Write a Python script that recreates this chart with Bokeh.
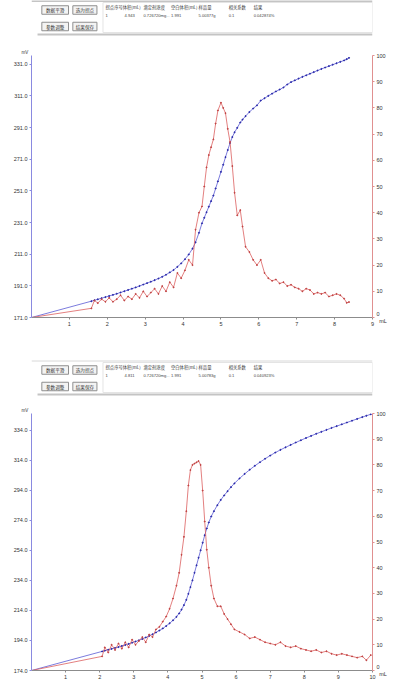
from bokeh.plotting import figure
from bokeh.models import Range1d, LinearAxis, FixedTicker, PrintfTickFormatter
from bokeh.layouts import column
from bokeh.embed import file_html
from bokeh.resources import INLINE
from bokeh.core.properties import value

# ---------------- data ----------------
buttons = ["数据平滑", "选为拐点", "参数调整", "结果保存"]
table_head = ["拐点序号", "体积(mL)", "滴定剂浓度", "空白体积(mL)", "样品量", "相关系数", "结果"]
table_row1 = ["1", "4.943", "0.726720mg...", "1.991", "5.00377g", "0.1", "0.042874%"]
table_row2 = ["1", "4.811", "0.726720mg...", "1.991", "5.00783g", "0.1", "0.040923%"]

x1 = [0, 1.58, 1.66, 1.75, 1.85, 1.95, 2.05, 2.15, 2.25, 2.35, 2.45, 2.55, 2.65, 2.75,
      2.85, 2.95, 3.05, 3.15, 3.25, 3.35, 3.45, 3.55, 3.65, 3.75, 3.85, 3.95, 4.05,
      4.15, 4.25, 4.33, 4.42, 4.50, 4.56, 4.62, 4.68, 4.74, 4.80, 4.86, 4.92, 5.00,
      5.06, 5.12, 5.18, 5.24, 5.30, 5.36, 5.43, 5.51, 5.57, 5.65, 5.75, 5.85, 5.95,
      6.05, 6.15, 6.25, 6.35, 6.45, 6.55, 6.65, 6.75, 6.85, 6.95, 7.05, 7.15, 7.25,
      7.35, 7.45, 7.55, 7.65, 7.75, 7.85, 7.95, 8.05, 8.15, 8.25, 8.32, 8.38]
mv1 = [171.0, 181.3, 181.9, 182.5, 183.2, 183.9, 184.6, 185.3, 186.0, 186.8, 187.6, 188.4,
       189.2, 190.0, 190.9, 191.8, 192.7, 193.6, 194.6, 195.6, 196.7, 198.0, 199.5, 201.0,
       203.0, 205.2, 207.8, 210.8, 214.5, 218.5, 224.5, 230.5, 234.0, 237.5, 241.0, 244.5,
       248.0, 252.5, 257.0, 263.0, 267.5, 272.3, 276.8, 281.2, 285.0, 288.0, 290.8, 294.2,
       296.0, 298.2, 300.8, 303.0, 305.0, 308.0, 309.5, 311.0, 312.4, 313.8, 315.0, 316.3,
       318.2, 319.7, 320.8, 321.9, 323.0, 324.0, 325.0, 326.0, 327.0, 328.0, 328.9, 329.8,
       330.7, 331.6, 332.5, 333.4, 334.2, 335.0]
d1 = [0.0, 3.5, 6.5, 5.5, 7.0, 6.0, 7.5, 6.0, 7.0, 8.5, 6.5, 8.0, 7.0, 9.0, 7.5, 10.0,
      8.0, 9.5, 11.0, 9.0, 12.0, 10.0, 13.5, 11.5, 17.0, 15.0, 18.0, 22.0, 20.0, 33.5,
      40.0, 42.4, 50.0, 57.3, 62.0, 65.0, 68.0, 74.0, 79.0, 82.0, 80.0, 78.0, 72.0, 67.0,
      57.8, 47.6, 39.0, 41.0, 34.7, 27.0, 25.0, 22.0, 20.0, 22.0, 17.0, 15.0, 14.0, 14.5,
      13.0, 13.5, 12.0, 12.5, 11.5, 11.0, 10.0, 11.0, 10.5, 9.0, 9.5, 9.0, 9.5, 8.0,
      8.5, 9.0, 8.5, 7.2, 5.6, 5.9]

x2 = [0, 2.07, 2.15, 2.25, 2.35, 2.45, 2.55, 2.65, 2.75, 2.85, 2.95, 3.05, 3.15, 3.25,
      3.35, 3.45, 3.55, 3.65, 3.75, 3.85, 3.95, 4.05, 4.15, 4.25, 4.33, 4.40, 4.47, 4.54,
      4.60, 4.66, 4.72, 4.78, 4.84, 4.90, 4.96, 5.02, 5.08, 5.14, 5.20, 5.27, 5.35, 5.45,
      5.55, 5.65, 5.75, 5.85, 5.95, 6.10, 6.25, 6.40, 6.55, 6.70, 6.85, 7.00, 7.15, 7.30,
      7.45, 7.60, 7.75, 7.90, 8.05, 8.20, 8.35, 8.50, 8.65, 8.80, 8.95, 9.10, 9.25, 9.40,
      9.55, 9.70, 9.82, 9.95]
mv2 = [174.0, 186.7, 187.2, 187.8, 188.4, 189.0, 189.6, 190.3, 191.0, 191.7, 192.5, 193.3,
       194.1, 195.0, 196.0, 197.0, 198.1, 199.3, 200.6, 202.0, 203.6, 205.4, 207.4, 209.7,
       212.0, 214.5, 217.5, 221.0, 225.0, 229.5, 234.0, 239.0, 244.0, 249.0, 254.0, 259.0,
       264.0, 268.5, 272.5, 276.5, 280.0, 284.0, 287.5, 290.5, 293.3, 296.0, 298.5, 301.8,
       304.8, 307.6, 310.2, 312.6, 314.9, 317.0, 319.0, 320.8, 322.5, 324.1, 325.7, 327.2,
       328.7, 330.1, 331.5, 332.8, 334.1, 335.4, 336.6, 337.8, 339.0, 340.2, 341.4, 342.6,
       343.5, 344.5]
d2 = [0.0, 5.5, 9.0, 7.0, 10.0, 8.0, 10.5, 8.5, 11.0, 9.0, 12.0, 10.0, 11.5, 13.0, 11.0,
      14.0, 13.0, 16.0, 17.0, 19.0, 21.0, 24.0, 28.0, 33.0, 38.0, 45.0, 52.0, 62.0, 72.0,
      78.0, 80.0, 80.5, 81.0, 81.5, 80.0, 70.0, 58.0, 47.0, 40.0, 33.0, 28.0, 25.0, 25.0,
      22.0, 20.0, 18.0, 16.0, 15.0, 14.0, 12.5, 13.0, 12.0, 11.0, 10.5, 10.0, 11.0, 9.5,
      9.0, 9.5, 8.5, 8.0, 7.5, 8.0, 7.0, 7.5, 6.5, 6.0, 6.5, 6.0, 5.5, 5.0, 5.5, 4.0, 6.0]

left_ticks1 = [171, 191, 211, 231, 251, 271, 291, 311, 331]
left_ticks2 = [174, 194, 214, 234, 254, 274, 294, 314, 334]
right_ticks = [0, 10, 20, 30, 40, 50, 60, 70, 80, 90, 100]
x_ticks1 = [1, 2, 3, 4, 5, 6, 7, 8, 9]
x_ticks2 = [1, 2, 3, 4, 5, 6, 7, 8, 9, 10]

CJK = value("Noto Sans CJK SC")
TXT = "#333333"
W = 396


def make_header(y0, y1, off, row, top_color):
    p = figure(width=W, height=y1 - y0, x_range=Range1d(0, W), y_range=Range1d(y1, y0),
               output_backend="svg", toolbar_location=None, min_border=0)
    p.axis.visible = False
    p.grid.visible = False
    p.outline_line_color = None
    p.segment(x0=[0], y0=[off + 0.5], x1=[W], y1=[off + 0.5], line_color=top_color, line_width=1)
    p.quad(left=[83], right=[W], top=[off + 2], bottom=[off + 32], fill_color="white",
           line_color="#e4e4e4", line_width=1)
    p.segment(x0=[7], y0=[off + 34], x1=[W], y1=[off + 34], line_color="#c4c4c4", line_width=2)
    bx = [27.5, 62, 27.5, 62]
    by = [off + 9.5, off + 9.5, off + 26, off + 26]
    p.rect(x=bx, y=by, width=[31, 28, 31, 28], height=[8.5, 8.5, 8.5, 8.5],
           fill_color="#f3f3f3", line_color="#8e8e8e", line_width=1)
    p.text(x=bx, y=by, text=buttons, text_font=CJK, text_font_size="4.6px",
           text_align="center", text_baseline="middle", text_color=TXT)
    cx = [86, 106, 130, 162, 194, 229, 258]
    p.text(x=cx, y=[off + 6] * 7, text=table_head, text_font=CJK, text_font_size="4.3px",
           text_align="left", text_baseline="middle", text_color=TXT)
    cx2 = [86, 108, 130, 162, 194, 229, 258]
    p.text(x=cx2, y=[off + 15] * 7, text=row, text_font=value("Liberation Sans"),
           text_font_size="4.1px", text_align="left", text_baseline="middle", text_color="#444444")
    return p


def make_chart(h, xs, mv, d, xmax, ymin, ymax, lticks, xticks, bl, br, bt, bb):
    p = figure(width=W, height=h, x_range=Range1d(0, xmax), y_range=Range1d(ymin, ymax),
               output_backend="svg", toolbar_location=None,
               min_border_left=bl, min_border_right=br, min_border_top=bt, min_border_bottom=bb)
    p.grid.visible = False
    p.outline_line_color = None
    p.title.text = "mV"
    p.title.align = "left"
    p.title.offset = -10
    p.title.standoff = 1
    p.title.text_font_size = "4.5px"
    p.title.text_font_style = "normal"
    p.title.text_font = "Liberation Sans"
    p.title.text_color = TXT

    p.extra_y_ranges = {"d": Range1d(0, 100)}
    ax_r = LinearAxis(y_range_name="d", ticker=FixedTicker(ticks=right_ticks))
    p.add_layout(ax_r, "right")

    for ax in p.axis:
        ax.minor_tick_line_color = None
        ax.major_tick_out = 2
        ax.major_tick_in = 0
        ax.major_label_standoff = 2
        ax.major_label_text_font_size = "5.5px"
        ax.major_label_text_font = "Liberation Sans"
        ax.major_label_text_color = TXT

    p.xaxis[0].ticker = FixedTicker(ticks=xticks)
    p.xaxis[0].axis_line_color = "#8c8c8c"
    p.xaxis[0].major_tick_line_color = "#8c8c8c"
    p.yaxis[0].ticker = FixedTicker(ticks=lticks)
    p.yaxis[0].formatter = PrintfTickFormatter(format="%.1f")
    p.yaxis[0].axis_line_color = "#8a8ae0"
    p.yaxis[0].major_tick_line_color = "#8a8ae0"
    ax_r.axis_line_color = "#e09090"
    ax_r.major_tick_line_color = "#e09090"
    ax_r.major_label_overrides = {0: "0\n\u2002mL"}

    p.line(xs, mv, line_color="#5a5ad4", line_width=0.8)
    p.scatter(xs[1:], mv[1:], size=1.1, color="#2828a8")
    p.line(xs, d, y_range_name="d", line_color="#dc6060", line_width=0.8)
    p.scatter(xs[1:], d[1:], y_range_name="d", size=1.0, color="#c04040")
    return p


h1 = make_header(0, 40, 0, table_row1, "#8a8a8a")
c1 = make_chart(316, x1, mv1, d1, 9, 171, 336.5, left_ticks1, x_ticks1, 31, 13, 15, 39)
h2 = make_header(356, 400, 360, table_row2, "#d8d8d8")
c2 = make_chart(284, x2, mv2, d2, 10, 174, 345, left_ticks2, x_ticks2, 29, 24, 13, 14)

page = column(h1, c1, h2, c2, spacing=0)
open("out.html", "w").write(file_html(page, INLINE))
